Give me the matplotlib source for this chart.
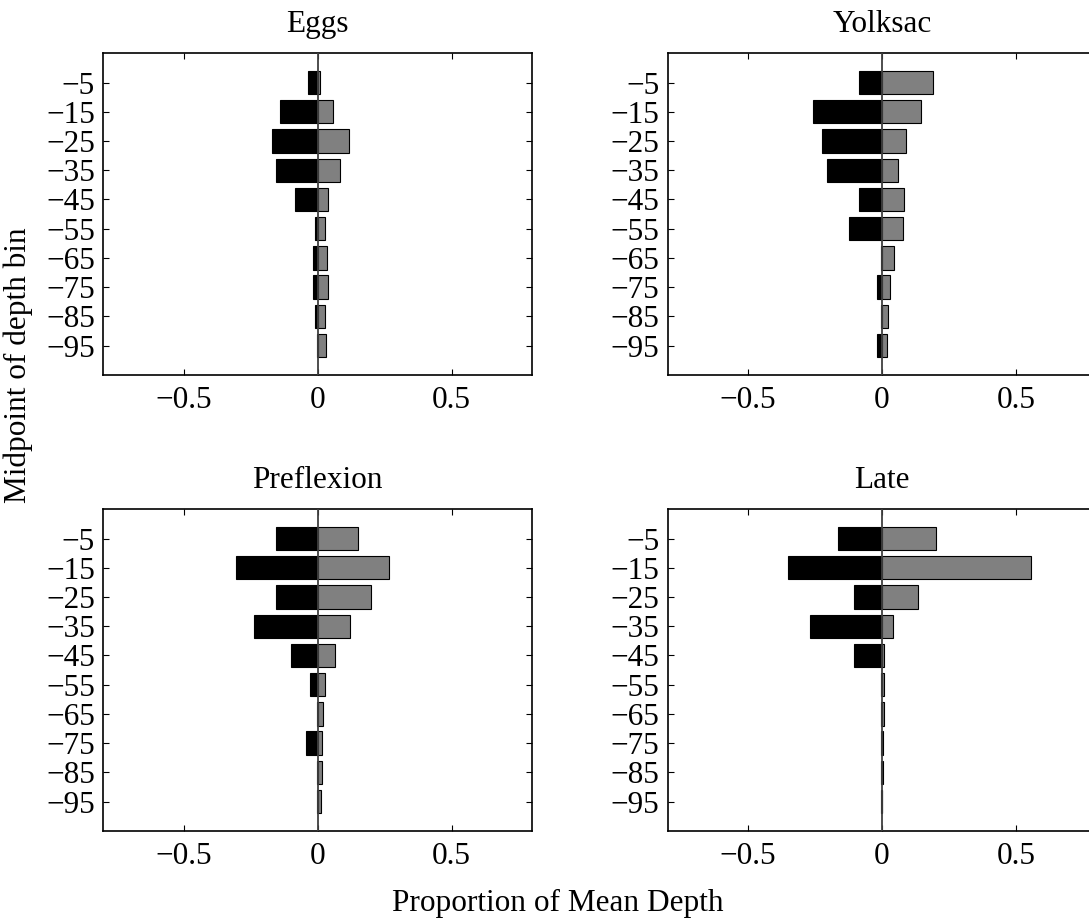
import numpy as np
import matplotlib
matplotlib.use("Agg")
import matplotlib.pyplot as plt

plt.rcParams["font.family"] = ["Liberation Serif", "DejaVu Serif"]
plt.rcParams["axes.unicode_minus"] = True

depth_mid = [-5, -15, -25, -35, -45, -55, -65, -75, -85, -95]

stages = ["Eggs", "Yolksac", "Preflexion", "Late"]

# left (black) and right (gray) proportions per depth bin
eggs_left = [-0.037, -0.140, -0.169, -0.154, -0.086, -0.011, -0.016, -0.016, -0.011, -0.003]
eggs_right = [0.009, 0.056, 0.118, 0.083, 0.039, 0.029, 0.035, 0.039, 0.027, 0.031]

yolk_left = [-0.087, -0.258, -0.224, -0.207, -0.087, -0.122, -0.004, -0.020, -0.004, -0.020]
yolk_right = [0.190, 0.144, 0.090, 0.060, 0.082, 0.077, 0.046, 0.031, 0.021, 0.020]

pref_left = [-0.154, -0.303, -0.154, -0.236, -0.098, -0.030, -0.004, -0.044, -0.004, -0.004]
pref_right = [0.150, 0.267, 0.199, 0.121, 0.063, 0.027, 0.019, 0.015, 0.016, 0.011]

late_left = [-0.166, -0.350, -0.105, -0.269, -0.105, -0.004, -0.004, -0.005, -0.005, -0.004]
late_right = [0.202, 0.555, 0.136, 0.042, 0.009, 0.007, 0.007, 0.002, 0.002, 0.001]

left_vals = [eggs_left, yolk_left, pref_left, late_left]
right_vals = [eggs_right, yolk_right, pref_right, late_right]

fig = plt.figure(figsize=(10.89, 9.21), dpi=100)

W, H = 1089.0, 921.0
boxes = [(103.3, 53.3), (667.7, 53.3), (103.3, 509.3), (667.7, 509.3)]
aw, ah = 428.7, 321.5
fs = 22.5

for i, name in enumerate(stages):
    x0, y0 = boxes[i]
    ax = fig.add_axes([x0 / W, 1 - (y0 + ah) / H, aw / W, ah / H])
    ax.barh(depth_mid, left_vals[i], height=8, color="black",
            edgecolor="black", linewidth=0.8, zorder=2)
    ax.barh(depth_mid, right_vals[i], height=8, color="#808080",
            edgecolor="black", linewidth=0.8, zorder=2)
    ax.axvline(0, color="#404040", linewidth=1.3, zorder=3)
    ax.set_xlim(-0.8, 0.8)
    ax.set_ylim(-105, 5)
    ax.set_yticks(depth_mid)
    ax.set_yticklabels([f"\u2212{abs(d)}" for d in depth_mid])
    ax.set_xticks([-0.5, 0, 0.5])
    ax.set_xticklabels(["\u22120.5", "0", "0.5"])
    ax.tick_params(direction="in", length=4, width=0.8, top=True, right=True,
                   labelsize=fs)
    ax.tick_params(axis="y", pad=6)
    ax.tick_params(axis="x", pad=8)
    for s in ax.spines.values():
        s.set_linewidth(1.2)
    ax.set_title(name, fontsize=fs, pad=15)

fig.text(18 / W, 1 - 365 / H, "Midpoint of depth bin", rotation=90,
         ha="center", va="center", fontsize=fs)
fig.text(558 / W, 1 - 903 / H, "Proportion of Mean Depth",
         ha="center", va="center", fontsize=fs)

fig.savefig("out.png", dpi=100)
